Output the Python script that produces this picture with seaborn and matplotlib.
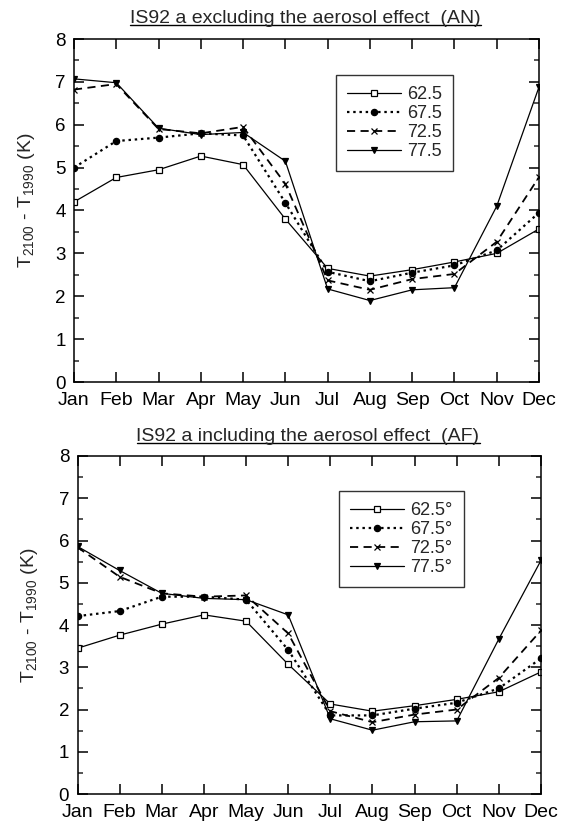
import numpy as np
import pandas as pd
import seaborn as sns
import matplotlib
matplotlib.use("Agg")
import matplotlib.pyplot as plt
from matplotlib.lines import Line2D
from matplotlib.ticker import MultipleLocator

months = ["Jan", "Feb", "Mar", "Apr", "May", "Jun", "Jul", "Aug", "Sep", "Oct", "Nov", "Dec"]
latitudes = ["62.5", "67.5", "72.5", "77.5"]

# Warming T2100 - T1990 without aerosols (AN)
an_625 = [4.20, 4.77, 4.95, 5.27, 5.07, 3.80, 2.65, 2.47, 2.62, 2.80, 3.00, 3.57]
an_675 = [5.00, 5.62, 5.70, 5.80, 5.75, 4.18, 2.57, 2.35, 2.55, 2.72, 3.07, 3.95]
an_725 = [6.82, 6.95, 5.90, 5.80, 5.95, 4.62, 2.37, 2.15, 2.40, 2.52, 3.27, 4.78]
an_775 = [7.07, 6.98, 5.92, 5.77, 5.82, 5.15, 2.17, 1.90, 2.15, 2.20, 4.10, 6.88]

# Warming T2100 - T1990 with aerosols (AF)
af_625 = [3.45, 3.76, 4.02, 4.24, 4.09, 3.07, 2.13, 1.96, 2.09, 2.24, 2.42, 2.89]
af_675 = [4.21, 4.33, 4.67, 4.67, 4.60, 3.41, 1.86, 1.86, 2.02, 2.16, 2.50, 3.21]
af_725 = [5.84, 5.14, 4.75, 4.67, 4.70, 3.80, 1.96, 1.70, 1.88, 2.00, 2.75, 3.87]
af_775 = [5.86, 5.29, 4.75, 4.63, 4.60, 4.24, 1.78, 1.51, 1.71, 1.73, 3.67, 5.53]

titles = ["IS92 a excluding the aerosol effect  (AN)",
          "IS92 a including the aerosol effect  (AF)"]

sns.set_style("ticks")
plt.rcParams["font.family"] = ["Liberation Sans", "DejaVu Sans"]
plt.rcParams["mathtext.fontset"] = "custom"
plt.rcParams["mathtext.rm"] = "Liberation Sans"
plt.rcParams["mathtext.it"] = "Liberation Sans"

styles = {
    "62.5": dict(ls="-", marker="s", mfc="white", ms=4.5, lw=0.9),
    "67.5": dict(ls=(0, (1.1, 1.7)), marker="o", mfc="black", ms=4.5, lw=1.6),
    "72.5": dict(ls=(0, (4.5, 3)), marker="x", mfc="black", ms=5, lw=1.3),
    "77.5": dict(ls="-", marker="v", mfc="black", ms=5, lw=0.9),
}

W, H = 562, 821
fig = plt.figure(figsize=(W / 100, H / 100), dpi=100)


def px_rect(left, top, right, bottom):
    return [left / W, 1 - bottom / H, (right - left) / W, (bottom - top) / H]


ax_top = fig.add_axes(px_rect(74, 39, 539, 382))
ax_bot = fig.add_axes(px_rect(77.5, 456, 541, 794))

panels = [
    (ax_top, [an_625, an_675, an_725, an_775], "", (336, 75)),
    (ax_bot, [af_625, af_675, af_725, af_775], "°", (339, 491)),
]

for ax, series, suffix, leg_px in panels:
    frames = []
    for lat, vals in zip(latitudes, series):
        frames.append(pd.DataFrame({"month": np.arange(12), "dT": vals,
                                    "lat": lat + suffix}))
    df = pd.concat(frames, ignore_index=True)
    handles = []
    for lat in latitudes:
        st = styles[lat]
        sub = df[df["lat"] == lat + suffix]
        sns.lineplot(data=sub, x="month", y="dT", ax=ax, color="black",
                     linestyle=st["ls"], linewidth=st["lw"], marker=st["marker"],
                     markersize=st["ms"], markerfacecolor=st["mfc"],
                     markeredgecolor="black", markeredgewidth=0.9,
                     legend=False)
        handles.append(Line2D([], [], color="black", linestyle=st["ls"],
                              linewidth=st["lw"], marker=st["marker"],
                              markersize=st["ms"], markerfacecolor=st["mfc"],
                              markeredgecolor="black", markeredgewidth=0.9,
                              label=lat + suffix))
    ax.set_xlim(0, 11)
    ax.set_ylim(0, 8)
    ax.set_xticks(np.arange(12))
    ax.set_xticklabels(months)
    ax.yaxis.set_major_locator(MultipleLocator(1))
    ax.yaxis.set_minor_locator(MultipleLocator(0.5))
    ax.tick_params(axis="both", which="major", direction="in", length=7.2,
                   width=1.1, top=True, right=True,
                   color="black", labelcolor="black")
    ax.tick_params(axis="y", which="major", pad=6, labelsize=13.5)
    ax.tick_params(axis="x", which="major", pad=7.5, labelsize=14)
    ax.tick_params(axis="y", which="minor", direction="in", length=3.8,
                   width=1.1, left=True, right=True)
    for sp in ax.spines.values():
        sp.set_linewidth(1.1)
        sp.set_color("black")
    ax.set_xlabel("")
    ax.set_ylabel(r"T$_{2100}$ - T$_{1990}$ (K)", fontsize=14)
    ax.yaxis.set_label_coords(-0.08, 0.53)
    leg = ax.legend(handles=handles, loc="upper left",
                    bbox_to_anchor=(leg_px[0] / W, 1 - leg_px[1] / H),
                    bbox_transform=fig.transFigure,
                    frameon=True, fancybox=False, edgecolor="black",
                    fontsize=13, handlelength=3.0, handletextpad=0.35,
                    labelspacing=0.12, borderpad=0.6, borderaxespad=0)
    leg.get_frame().set_linewidth(1.0)

# Underlined panel titles
title_pos = [(305.5, 23, 25.5), (308, 441, 443.5)]
for (cx, base, uline), txt in zip(title_pos, titles):
    t = fig.text(cx / W, 1 - base / H, txt, ha="center", va="baseline",
                 fontsize=14)
    fig.canvas.draw()
    bb = t.get_window_extent(fig.canvas.get_renderer())
    x0, x1 = bb.x0 / fig.bbox.width, bb.x1 / fig.bbox.width
    yl = 1 - uline / H
    fig.add_artist(Line2D([x0, x1], [yl, yl], color="black", linewidth=1.0,
                          transform=fig.transFigure))

fig.savefig("out.png", dpi=100)
